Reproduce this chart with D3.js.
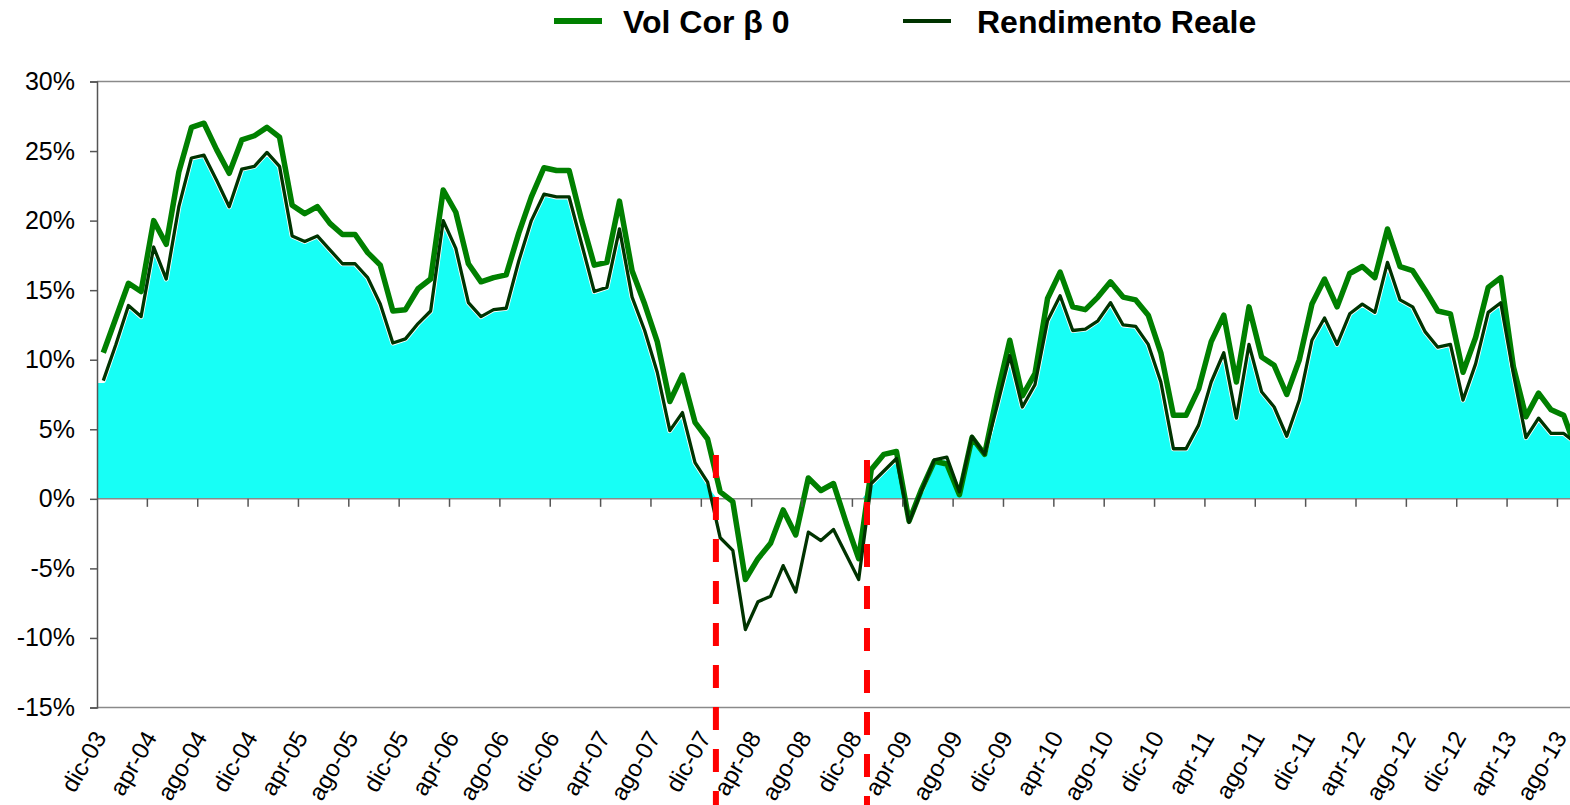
<!DOCTYPE html>
<html>
<head>
<meta charset="utf-8">
<script src="https://cdn.jsdelivr.net/npm/d3@7"></script>
<style>
  body { margin: 0; background: #fff; }
  svg { display: block; font-family: "Liberation Sans", Arial, sans-serif; }
</style>
</head>
<body>
<div id="chart"></div>
<script>
// month names (italian) and first month of the series: dic-03
var monthNames = ["gen", "feb", "mar", "apr", "mag", "giu", "lug", "ago", "set", "ott", "nov", "dic"];
var startMonth = 11, startYear = 3, nMonths = 118;

// Vol Cor beta 0 (%), monthly from dic-03
var volCor = [
  10.5, 13.0, 15.5, 14.9, 20.0, 18.3, 23.5, 26.7, 27.0, 25.1, 23.4, 25.8,
  26.1, 26.7, 26.0, 21.1, 20.5, 21.0, 19.8, 19.0, 19.0, 17.7, 16.8, 13.5,
  13.6, 15.1, 15.8, 22.2, 20.6, 16.9, 15.6, 15.9, 16.1, 19.1, 21.7, 23.8,
  23.6, 23.6, 20.0, 16.8, 17.0, 21.4, 16.4, 14.0, 11.3, 7.0, 8.9, 5.5,
  4.3, 0.5, -0.2, -5.8, -4.3, -3.2, -0.8, -2.6, 1.5, 0.6, 1.1, -1.7,
  -4.3, 2.1, 3.2, 3.4, -1.6, 0.7, 2.7, 2.5, 0.3, 4.4, 3.2, 7.5,
  11.4, 7.4, 9.0, 14.4, 16.3, 13.8, 13.6, 14.5, 15.6, 14.5, 14.3, 13.2,
  10.5, 6.0, 6.0, 7.9, 11.3, 13.2, 8.4, 13.8, 10.2, 9.6, 7.5, 10.0,
  14.0, 15.8, 13.8, 16.2, 16.7, 15.9, 19.4, 16.7, 16.4, 15.0, 13.5, 13.3,
  9.1, 11.6, 15.2, 15.9, 9.5, 5.9, 7.6, 6.4, 6.0, 3.5
];

// Rendimento Reale (%), monthly from dic-03
var rendimento = [
  8.5, 11.1, 13.9, 13.1, 18.1, 15.8, 21.0, 24.5, 24.7, 22.9, 21.0, 23.7,
  23.9, 24.9, 23.9, 18.9, 18.5, 18.9, 17.9, 16.9, 16.9, 15.9, 14.0, 11.2,
  11.5, 12.6, 13.5, 20.0, 18.0, 14.1, 13.1, 13.6, 13.7, 17.1, 20.0, 21.9,
  21.7, 21.7, 18.3, 14.9, 15.2, 19.4, 14.5, 12.1, 9.1, 4.9, 6.2, 2.6,
  1.2, -2.8, -3.7, -9.4, -7.4, -7.0, -4.8, -6.7, -2.4, -3.0, -2.2, -4.0,
  -5.8, 1.1, 2.0, 2.9, -1.7, 0.6, 2.8, 3.0, 0.5, 4.5, 3.2, 6.7,
  10.3, 6.6, 8.2, 12.8, 14.6, 12.1, 12.2, 12.8, 14.1, 12.5, 12.4, 11.1,
  8.4, 3.6, 3.6, 5.3, 8.4, 10.5, 5.8, 11.1, 7.7, 6.6, 4.5, 7.1,
  11.4, 13.0, 11.1, 13.3, 14.0, 13.4, 17.0, 14.3, 13.8, 12.0, 10.9, 11.1,
  7.1, 9.7, 13.4, 14.1, 9.0, 4.4, 5.8, 4.7, 4.7, 4.0
];

var yTicks = [-15, -10, -5, 0, 5, 10, 15, 20, 25, 30];
var markers = ["gen-08", "gen-09"];   // red dashed lines
var legendNames = ["Vol Cor \u03b2 0", "Rendimento Reale"];

var categories = [];
for (var k = 0; k < nMonths; k++) {
  var m = (startMonth + k) % 12;
  var yy = startYear + Math.floor((startMonth + k) / 12);
  categories.push(monthNames[m] + "-" + (yy < 10 ? "0" + yy : "" + yy));
}
var tickLabels = categories.filter(function (d, i) { return i % 4 === 0; });

var W = 1570, H = 805;
var plotLeft = 97, plotTop = 81.5, plotBottom = 707.5, step = 12.59;

var svg = d3.select("#chart").append("svg")
    .attr("width", W)
    .attr("height", H);

var x = d3.scaleBand()
    .domain(categories)
    .range([plotLeft, plotLeft + step * nMonths]);
var cx = function (c) { return x(c) + x.bandwidth() / 2; };

var y = d3.scaleLinear()
    .domain([-15, 30])
    .range([plotBottom, plotTop]);

// plot border (top/bottom)
svg.append("line").attr("x1", plotLeft).attr("x2", W).attr("y1", plotTop).attr("y2", plotTop)
    .attr("stroke", "#8a8a8a").attr("stroke-width", 1.5);
svg.append("line").attr("x1", plotLeft).attr("x2", W).attr("y1", plotBottom).attr("y2", plotBottom)
    .attr("stroke", "#8a8a8a").attr("stroke-width", 1.5);

// cyan area = positive part of the rendimento series
var areaPts = rendimento.map(function (v, i) { return [cx(categories[i]), Math.max(0, v)]; });
areaPts.unshift([plotLeft, Math.max(0, rendimento[0])]);

var area = d3.area()
    .x(function (d) { return d[0]; })
    .y0(y(0))
    .y1(function (d) { return y(d[1]); });
svg.append("path").datum(areaPts)
    .attr("d", area)
    .attr("fill", "#17fff6");

svg.append("path").datum(areaPts)
    .attr("d", d3.line().x(function (d) { return d[0]; }).y(function (d) { return y(d[1]); }))
    .attr("fill", "none")
    .attr("stroke", "#fff")
    .attr("stroke-width", 5)
    .attr("stroke-linejoin", "round");

// zero axis
svg.append("line").attr("x1", plotLeft).attr("x2", W).attr("y1", y(0)).attr("y2", y(0))
    .attr("stroke", "#8a8a8a").attr("stroke-width", 1.5);

var line = d3.line()
    .x(function (d, i) { return cx(categories[i]); })
    .y(function (d) { return y(d); });

svg.append("path").datum(volCor)
    .attr("d", line)
    .attr("fill", "none")
    .attr("stroke", "#008000")
    .attr("stroke-width", 5.5)
    .attr("stroke-linejoin", "round");

svg.append("path").datum(rendimento)
    .attr("d", line)
    .attr("fill", "none")
    .attr("stroke", "#003300")
    .attr("stroke-width", 3.3)
    .attr("stroke-linejoin", "round");

// y axis
var yAxis = svg.append("g")
    .attr("transform", "translate(" + plotLeft + ",0)")
    .call(d3.axisLeft(y).tickValues(yTicks).tickSize(7).tickPadding(15)
        .tickFormat(function (d) { return d + "%"; }));
yAxis.select(".domain").attr("stroke", "#555").attr("stroke-width", 1.5);
yAxis.selectAll(".tick line").attr("stroke", "#555").attr("stroke-width", 1.5);
yAxis.selectAll(".tick text")
    .attr("font-size", 25)
    .attr("font-family", "Liberation Sans, Arial, sans-serif")
    .attr("fill", "#000");

// category tick marks every 4 months, on the zero line
var boundaries = categories.filter(function (d, i) { return i > 0 && i % 4 === 0; });
svg.selectAll(".xtick").data(boundaries).enter().append("line")
    .attr("class", "xtick")
    .attr("x1", function (d) { return x(d); })
    .attr("x2", function (d) { return x(d); })
    .attr("y1", y(0))
    .attr("y2", y(0) + 8)
    .attr("stroke", "#555")
    .attr("stroke-width", 1.5);

// rotated month labels
svg.selectAll(".xlab").data(tickLabels).enter().append("text")
    .attr("class", "xlab")
    .attr("transform", function (d) {
      return "translate(" + (cx(d) + 4) + "," + (plotBottom + 30) + ") rotate(-60)";
    })
    .attr("text-anchor", "end")
    .attr("font-size", 24)
    .text(function (d) { return d; });

// red dashed markers
svg.selectAll(".marker").data(markers).enter().append("line")
    .attr("class", "marker")
    .attr("x1", function (d) { return x(d) + 2; })
    .attr("x2", function (d) { return x(d) + 2; })
    .attr("y1", function (d, i) { return i === 0 ? 455 : 460; })
    .attr("y2", H)
    .attr("stroke", "#ff0000")
    .attr("stroke-width", 6)
    .attr("stroke-dasharray", "23,19");

// legend
var legendX = [554, 903];
var legendTextX = [623, 977];
var legendColor = ["#008000", "#003300"];
var legendW = [6, 4];
legendNames.forEach(function (name, i) {
  svg.append("line")
      .attr("x1", legendX[i]).attr("x2", legendX[i] + 48)
      .attr("y1", 21).attr("y2", 21)
      .attr("stroke", legendColor[i])
      .attr("stroke-width", legendW[i]);
  svg.append("text")
      .attr("x", legendTextX[i])
      .attr("y", 33)
      .attr("font-size", 32)
      .attr("font-weight", "bold")
      .text(name);
});
</script>
</body>
</html>
